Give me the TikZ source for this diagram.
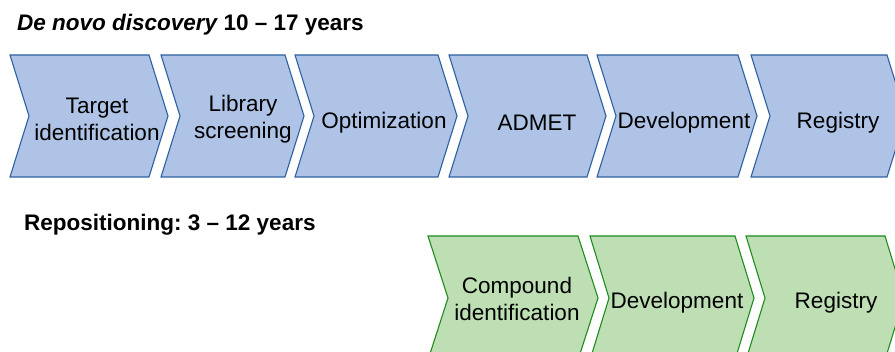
\documentclass[tikz,border=0pt]{standalone}
\usepackage{fontspec}
\setmainfont{Liberation Sans}
\frenchspacing
\definecolor{bluefill}{RGB}{174,195,230}
\definecolor{blueline}{RGB}{46,96,160}
\definecolor{greenfill}{RGB}{190,223,180}
\definecolor{greenline}{RGB}{30,140,30}
\tikzset{
  lbl/.style={font=\fontsize{22.5}{27}\selectfont, align=center, inner sep=0pt},
  ttl/.style={font=\fontsize{22.5}{27}\selectfont\bfseries, anchor=base west, inner sep=0pt},
  bluestep/.style={fill=bluefill, draw=blueline, line width=1.1pt, line join=miter},
  greenstep/.style={fill=greenfill, draw=greenline, line width=1.1pt, line join=miter}
}
% chevron: #1 style, #2 left x, #3 right x, #4 top y, #5 bottom y, #6 point depth
\newcommand{\chev}[6]{%
  \path[#1] (#2,#4) -- (#3,#4) -- ({#3+#6},{(#4+#5)/2}) -- (#3,#5) -- (#2,#5)
    -- ({#2+#6},{(#4+#5)/2}) -- cycle;}
\begin{document}
\begin{tikzpicture}[x=1pt,y=-1pt]
\useasboundingbox (0,0) rectangle (895,352);
\clip (0,0) rectangle (895,352);

% titles
\node[ttl] (t1) at (17,31) {\itshape De novo discovery\upshape{} 10 – 17 years};
\node[ttl] (t2) at (24,231) {Repositioning: 3 – 12 years};

% de novo pipeline
\chev{bluestep}{10}{149}{55}{177}{19}
\chev{bluestep}{161}{285}{55}{177}{19}
\chev{bluestep}{295}{438}{55}{177}{19}
\chev{bluestep}{449}{587}{55}{177}{19}
\chev{bluestep}{597}{738}{55}{177}{19}
\chev{bluestep}{751}{887}{55}{177}{19}
\node[lbl] (a1) at (97,119) {Target\\identification};
\node[lbl] (a2) at (243,119) {Library\\screening};
\node[lbl] (a3) at (384,123) {Optimization};
\node[lbl] (a4) at (537,123) {ADMET};
\node[lbl] (a5) at (684,123) {Development};
\node[lbl] (a6) at (838,123) {Registry};

% repositioning pipeline
\chev{greenstep}{428}{578}{236}{360}{20}
\chev{greenstep}{590}{735}{236}{360}{19}
\chev{greenstep}{746}{885}{236}{360}{19}
\node[lbl] (b1) at (517,299) {Compound\\identification};
\node[lbl] (b2) at (677,303) {Development};
\node[lbl] (b3) at (836,303) {Registry};
\end{tikzpicture}
\end{document}
